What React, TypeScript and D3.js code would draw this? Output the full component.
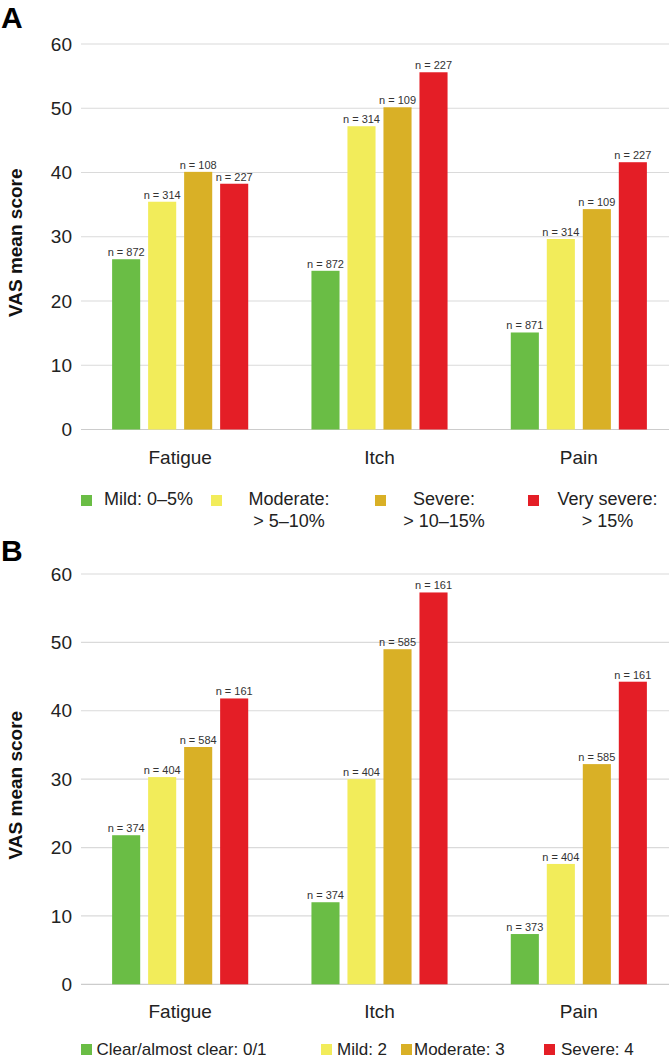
import React from "react";
import * as d3 from "d3";

// categories and series
const categories = ["Fatigue", "Itch", "Pain"];
const colors = ["#6abd45", "#f2ec5a", "#d9b026", "#e41e26"];
const yTicks = [0, 10, 20, 30, 40, 50, 60];

// panel A: body surface area groups
const legendA = [["Mild: 0–5%"], ["Moderate:", "> 5–10%"], ["Severe:", "> 10–15%"], ["Very severe:", "> 15%"]];
const valuesA = [
  [26.5, 35.45, 40.1, 38.25],
  [24.7, 47.2, 50.15, 55.6],
  [15.1, 29.65, 34.3, 41.6],
];
const nA = [
  [872, 314, 108, 227],
  [872, 314, 109, 227],
  [871, 314, 109, 227],
];

// panel B: IGA groups
const legendB = ["Clear/almost clear: 0/1", "Mild: 2", "Moderate: 3", "Severe: 4"];
const valuesB = [
  [21.8, 30.3, 34.7, 41.8],
  [12.0, 30.0, 49.0, 57.3],
  [7.35, 17.6, 32.2, 44.25],
];
const nB = [
  [374, 404, 584, 161],
  [374, 404, 585, 161],
  [373, 404, 585, 161],
];

const font = "'Liberation Sans', Arial, Helvetica, sans-serif";
const W = 669;
const H = 1061;

function Panel({ letter, top, bottom, values, ns, letterY }) {
  const x = d3.scaleBand().domain(categories).range([80.5, 678.5]);
  const xi = d3
    .scaleBand()
    .domain(d3.range(4))
    .range([0, x.bandwidth()])
    .paddingInner(0.22)
    .paddingOuter(0.878);
  const y = d3.scaleLinear().domain([0, 60]).range([bottom, top]);

  return (
    <g>
      <text x={1} y={letterY} fontFamily={font} fontWeight="bold" fontSize={30} fill="#000">
        {letter}
      </text>
      {yTicks.map((t) => (
        <g key={t}>
          <line x1={81} x2={W} y1={y(t)} y2={y(t)} stroke={t === 0 ? "#cccccc" : "#dadada"} strokeWidth={1.2} />
          <text x={72} y={y(t)} dy="0.35em" textAnchor="end" fontFamily={font} fontSize={19} fill="#222">
            {t}
          </text>
        </g>
      ))}
      <text
        transform={`translate(22,${(top + bottom) / 2 + 6}) rotate(-90)`}
        textAnchor="middle"
        fontFamily={font}
        fontWeight="bold"
        fontSize={19}
        fill="#111"
      >
        VAS mean score
      </text>
      {categories.map((c, ci) => (
        <g key={c} transform={`translate(${x(c)},0)`}>
          {values[ci].map((v, si) => (
            <g key={si}>
              <rect x={xi(si)} y={y(v)} width={xi.bandwidth()} height={y(0) - y(v)} fill={colors[si]} />
              <text
                x={xi(si) + xi.bandwidth() / 2}
                y={y(v) - 3}
                textAnchor="middle"
                fontFamily={font}
                fontSize={11}
                fill="#333"
              >
                {`n = ${ns[ci][si]}`}
              </text>
            </g>
          ))}
          <text
            x={x.bandwidth() / 2}
            y={bottom + 34}
            textAnchor="middle"
            fontFamily={font}
            fontSize={19}
            fill="#222"
          >
            {c}
          </text>
        </g>
      ))}
    </g>
  );
}

// legend layout
const legendASquares = [81, 211, 375, 528];
const legendACenters = [148.5, 289, 444, 607.5];
const legendBSquares = [81, 321, 401, 544];
const legendBText = [96.5, 337, 414, 561];

export default function App() {
  return (
    <svg width={W} height={H} style={{ position: "absolute", left: 0, top: 0, background: "#fff" }}>
      <rect width={W} height={H} fill="#fff" />
      <Panel letter="A" letterY={28} top={44} bottom={429.5} values={valuesA} ns={nA} />
      {legendA.map((lines, i) => (
        <g key={i}>
          <rect x={legendASquares[i]} y={495} width={11} height={11} fill={colors[i]} />
          {lines.map((l, li) => (
            <text
              key={li}
              x={legendACenters[i]}
              y={505 + li * 22}
              textAnchor="middle"
              fontFamily={font}
              fontSize={18}
              fill="#222"
            >
              {l}
            </text>
          ))}
        </g>
      ))}
      <Panel letter="B" letterY={561} top={574} bottom={984.3} values={valuesB} ns={nB} />
      {legendB.map((l, i) => (
        <g key={i}>
          <rect x={legendBSquares[i]} y={1044} width={11} height={11} fill={colors[i]} />
          <text x={legendBText[i]} y={1055} fontFamily={font} fontSize={17} fill="#222">
            {l}
          </text>
        </g>
      ))}
    </svg>
  );
}
